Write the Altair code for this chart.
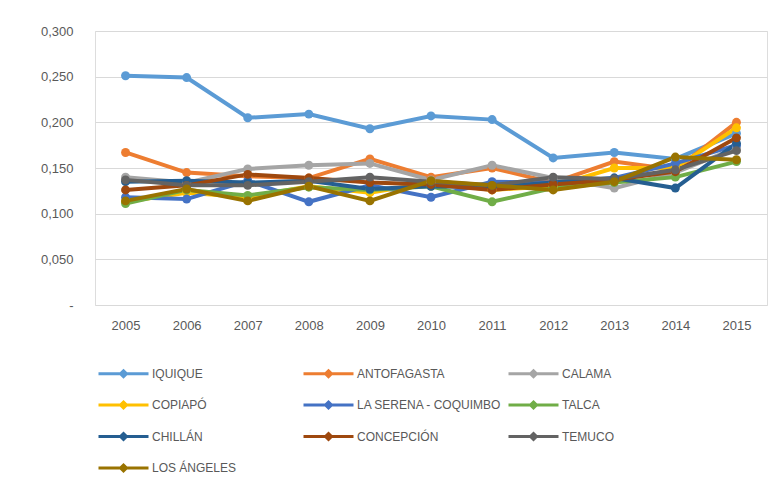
import altair as alt
import pandas as pd

years = ["2005", "2006", "2007", "2008", "2009", "2010", "2011", "2012", "2013", "2014", "2015"]
series = ["IQUIQUE", "ANTOFAGASTA", "CALAMA", "COPIAPÓ", "LA SERENA - COQUIMBO",
          "TALCA", "CHILLÁN", "CONCEPCIÓN", "TEMUCO", "LOS ÁNGELES"]
colors = ["#5B9BD5", "#ED7D31", "#A5A5A5", "#FFC000", "#4472C4",
          "#70AD47", "#255E91", "#9E480E", "#636363", "#997300"]

iquique     = [0.251, 0.249, 0.205, 0.209, 0.193, 0.207, 0.203, 0.161, 0.167, 0.160, 0.188]
antofagasta = [0.167, 0.145, 0.141, 0.139, 0.160, 0.140, 0.150, 0.134, 0.157, 0.148, 0.200]
calama      = [0.140, 0.134, 0.149, 0.153, 0.155, 0.137, 0.153, 0.139, 0.128, 0.145, 0.172]
copiapo     = [0.113, 0.123, 0.118, 0.130, 0.123, 0.134, 0.126, 0.130, 0.150, 0.150, 0.194]
la_serena   = [0.118, 0.116, 0.136, 0.113, 0.131, 0.118, 0.135, 0.134, 0.139, 0.155, 0.175]
talca       = [0.111, 0.126, 0.120, 0.129, 0.126, 0.130, 0.113, 0.128, 0.134, 0.140, 0.157]
chillan     = [0.135, 0.136, 0.134, 0.136, 0.127, 0.130, 0.129, 0.134, 0.139, 0.128, 0.177]
concepcion  = [0.126, 0.131, 0.143, 0.139, 0.134, 0.132, 0.126, 0.132, 0.137, 0.146, 0.183]
temuco      = [0.137, 0.131, 0.131, 0.135, 0.140, 0.135, 0.131, 0.140, 0.138, 0.148, 0.169]
los_angeles = [0.114, 0.127, 0.114, 0.130, 0.114, 0.136, 0.131, 0.126, 0.135, 0.162, 0.159]

values = [iquique, antofagasta, calama, copiapo, la_serena,
          talca, chillan, concepcion, temuco, los_angeles]

rows = []
for s, vals in zip(series, values):
    for y, v in zip(years, vals):
        rows.append({"Ciudad": s, "Año": y, "Valor": v})
df = pd.DataFrame(rows)

FONT = "Liberation Sans"
TXT = "#595959"

chart = alt.Chart(df).mark_line(
    strokeWidth=4,
    point=alt.OverlayMarkDef(size=80, filled=True, opacity=1),
).encode(
    x=alt.X("Año:O", sort=years, title=None,
            scale=alt.Scale(padding=0.5),
            axis=alt.Axis(labelAngle=0, ticks=False, domain=False, grid=False,
                          labelPadding=14, labelFontSize=13, labelColor=TXT, labelFont=FONT)),
    y=alt.Y("Valor:Q", title=None,
            scale=alt.Scale(domain=[0, 0.3], nice=False),
            axis=alt.Axis(values=[0, 0.05, 0.1, 0.15, 0.2, 0.25, 0.3],
                          labelExpr="datum.value == 0 ? '-' : replace(format(datum.value, '.3f'), '.', ',')",
                          ticks=False, domain=False, grid=True, gridColor="#D9D9D9", gridWidth=1,
                          labelPadding=22, labelFontSize=13, labelColor=TXT, labelFont=FONT)),
    color=alt.Color("Ciudad:N", sort=series,
                    scale=alt.Scale(domain=series, range=colors),
                    legend=alt.Legend(title=None, orient="none", legendX=17, legendY=331,
                                      direction="horizontal",
                                      columns=3, padding=0, rowPadding=10.5, columnPadding=0,
                                      symbolType="M-2.5,0H2.5M0,-0.3L0.3,0L0,0.3L-0.3,0Z",
                                      symbolSize=400, symbolStrokeWidth=3, labelOffset=17,
                                      labelFontSize=12, labelColor=TXT, labelFont=FONT,
                                      gridAlign="all")),
    order=alt.Order("Año:O"),
).properties(
    width=672, height=274,
    autosize=alt.AutoSizeParams(type="none"),
    padding={"left": 87, "top": 23, "right": 4, "bottom": 179},
).configure_view(stroke=None).configure(background="white")

chart.save("out.html", embed_options={"renderer": "svg", "actions": False})
